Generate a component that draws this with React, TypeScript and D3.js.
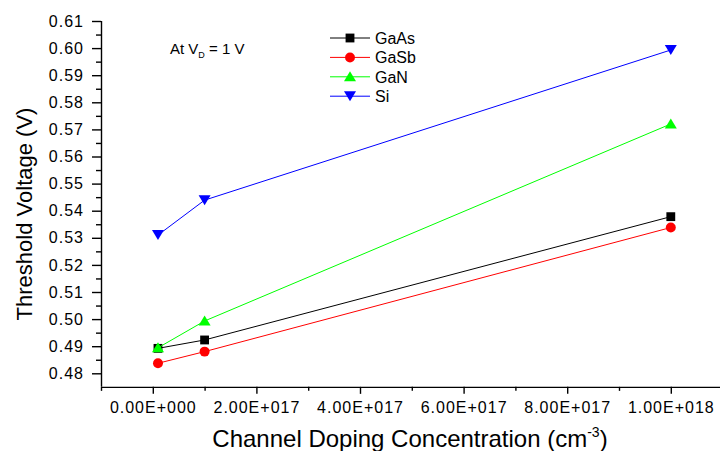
import React, { useRef, useEffect } from 'react'
import * as d3 from 'd3'

const dopings = [1e16, 1e17, 1e18]
const gaAs = [0.4892, 0.4923, 0.5378]
const gaSb = [0.4837, 0.488, 0.5338]
const gaN = [0.4894, 0.4993, 0.572]
const si = [0.531, 0.5439, 0.5993]

const seriesNames = ['GaAs', 'GaSb', 'GaN', 'Si']
const seriesColors = ['#000000', '#ff0000', '#00ff00', '#0000ff']
const seriesShapes = ['square', 'circle', 'up', 'down']

const xMajorTicks = [0, 2e17, 4e17, 6e17, 8e17, 1e18]
const xTickLabels = ['0.00E+000', '2.00E+017', '4.00E+017', '6.00E+017', '8.00E+017', '1.00E+018']
const xMinorTicks = [-1e17, 1e17, 3e17, 5e17, 7e17, 9e17, 1.1e18]
const yMajorTicks = [0.48, 0.49, 0.5, 0.51, 0.52, 0.53, 0.54, 0.55, 0.56, 0.57, 0.58, 0.59, 0.6, 0.61]

const W = 720, H = 451
const FONT = '"Liberation Sans", Arial, sans-serif'

const symbolFor = (shape: string) => {
    if (shape === 'square') return d3.symbol().type(d3.symbolSquare).size(78)()
    if (shape === 'circle') return d3.symbol().type(d3.symbolCircle).size(78)()
    if (shape === 'up') return 'M0,-5.5L6,4.5L-6,4.5Z'
    return 'M0,5L6,-5L-6,-5Z'
}

const App = () => {
    const svgRef = useRef<SVGSVGElement>(null)

    useEffect(() => {
        const svg = d3.select(svgRef.current)
        svg.selectAll('*').remove()

        const x = d3.scaleLinear().domain([-1e17, 1.1e18]).range([101, 722.6])
        const y = d3.scaleLinear().domain([0.475, 0.61]).range([386.85, 21])

        // y axis, minor ticks halfway between majors
        const yMinor = yMajorTicks.map(v => +(v - 0.005).toFixed(3)).filter(v => v > 0.475)
        const gy = svg.append('g').attr('transform', `translate(${x.range()[0]},0)`)
        gy.call(d3.axisLeft(y).tickValues(yMajorTicks).tickFormat(d3.format('.2f')).tickSize(9).tickPadding(8).tickSizeOuter(0))
        gy.append('g').call(d3.axisLeft(y).tickValues(yMinor).tickFormat(() => '').tickSize(5).tickSizeOuter(0))
            .select('.domain').remove()
        gy.select('.domain').attr('d', `M0.5,${y(0.61)}V${y(0.475)}`)

        // x axis
        const gx = svg.append('g').attr('transform', `translate(0,${y.range()[0]})`)
        gx.call(d3.axisBottom(x).tickValues(xMajorTicks).tickFormat((d, i) => xTickLabels[i]).tickSize(7).tickPadding(8).tickSizeOuter(0))
        gx.append('g').call(d3.axisBottom(x).tickValues(xMinorTicks).tickFormat(() => '').tickSize(4).tickSizeOuter(0))
            .select('.domain').remove()

        svg.selectAll('.tick text').attr('font-family', FONT).attr('font-size', 16)
            .attr('letter-spacing', 1).attr('fill', '#000')
        svg.selectAll('.domain, .tick line').attr('stroke', '#000').attr('stroke-width', 1.4)

        const allSeries = [gaAs, gaSb, gaN, si]
        const line = d3.line<number>().x((d, i) => x(dopings[i])).y(d => y(d))

        allSeries.forEach((vals, s) => {
            svg.append('path').datum(vals).attr('d', line).attr('fill', 'none')
                .attr('stroke', seriesColors[s]).attr('stroke-width', 1)
            svg.append('g').selectAll('path').data(vals).join('path')
                .attr('d', symbolFor(seriesShapes[s]))
                .attr('transform', (d, i) => `translate(${x(dopings[i])},${y(d)})`)
                .attr('fill', seriesColors[s])
        })

        // legend
        const legend = svg.append('g')
        seriesNames.forEach((name, s) => {
            const ly = 38 + s * 19.4
            legend.append('line').attr('x1', 330).attr('x2', 370).attr('y1', ly).attr('y2', ly)
                .attr('stroke', seriesColors[s]).attr('stroke-width', 1)
            legend.append('path').attr('d', symbolFor(seriesShapes[s]))
                .attr('transform', `translate(350,${ly})`).attr('fill', seriesColors[s])
            legend.append('text').attr('x', 375).attr('y', ly + 6).text(name)
                .attr('font-family', FONT).attr('font-size', 16).attr('fill', '#000')
        })

        // annotation
        const note = svg.append('text').attr('x', 170).attr('y', 54)
            .attr('font-family', FONT).attr('font-size', 15).attr('fill', '#000')
        note.append('tspan').text('At V')
        note.append('tspan').text('D').attr('font-size', 9).attr('dy', 4)
        note.append('tspan').text(' = 1 V').attr('dy', -4)

        // axis titles
        const xt = svg.append('text').attr('x', 410).attr('y', 447).attr('text-anchor', 'middle')
            .attr('font-family', FONT).attr('font-size', 24).attr('fill', '#000')
        xt.append('tspan').text('Channel Doping Concentration (cm')
        xt.append('tspan').text('-3').attr('font-size', 14).attr('dy', -10)
        xt.append('tspan').text(')').attr('dy', 10)

        svg.append('text').attr('transform', 'translate(32,214) rotate(-90)').attr('text-anchor', 'middle')
            .attr('font-family', FONT).attr('font-size', 22).attr('fill', '#000')
            .text('Threshold Voltage (V)')
    }, [])

    return (
        <svg ref={svgRef} width={W} height={H}
            style={{ position: 'absolute', left: 0, top: 0, background: '#fff' }} />
    )
}

export default App
